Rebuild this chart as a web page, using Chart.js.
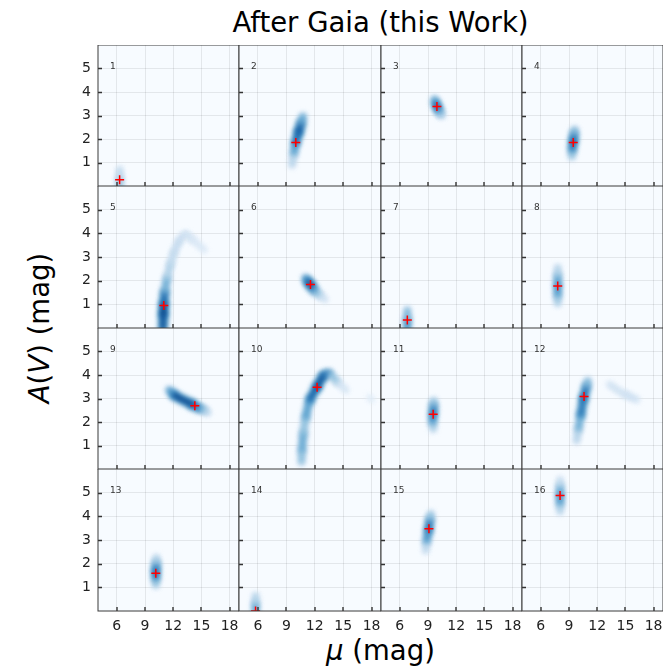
<!DOCTYPE html>
<html>
<head>
<meta charset="utf-8">
<script src="https://cdn.jsdelivr.net/npm/chart.js@4.4.1/dist/chart.umd.min.js"></script>
<style>
body { margin: 0; background: #fff; }
#wrap { position: relative; width: 667px; height: 666px; font-family: "DejaVu Sans", sans-serif; overflow: hidden; }
#wrap canvas { position: absolute; display: block; }
.lbl { position: absolute; color: #000; white-space: nowrap; font-size: 27.5px; line-height: 32px; }
</style>
</head>
<body>
<div id="wrap">
  <div class="lbl" id="title" style="left:0;width:761px;text-align:center;top:6px;">After Gaia (this Work)</div>
  <div class="lbl" id="xlab" style="left:0;width:761px;text-align:center;top:634px;"><i>μ</i> (mag)</div>
  <div class="lbl" id="ylab" style="left:39px;top:328px;transform:translate(-50%,-50%) rotate(-90deg);"><i>A</i>(<i>V</i>) (mag)</div>
</div>
<script>
// axes
var muTicks = [6, 9, 12, 15, 18];
var avTicks = [1, 2, 3, 4, 5];
var muMin = 4, muMax = 19;
var avMin = 0, avMax = 6;

// best fit (red crosses), panels 1..16
var bestMu = [6.3, 10.0, 9.95, 9.45, 11.0, 11.55, 6.8, 7.8, 14.3, 12.25, 9.55, 10.6, 10.15, 5.75, 9.1, 8.05];
var bestAv = [0.27, 1.85, 3.38, 1.85, 0.95, 1.84, 0.34, 1.77, 2.69, 3.48, 2.33, 3.08, 1.6, 0.0, 3.48, 4.88];

// posterior ridges per panel: [mu, A(V), density]
var p1 = [[[6.3, 0.0, 0.45], [6.3, 0.3, 0.45], [6.3, 0.7, 0.12]]];
var p2 = [[[9.6, 0.9, 0.15], [9.8, 1.4, 0.5], [10.0, 1.85, 0.8], [10.3, 2.3, 0.95], [10.55, 2.65, 0.9], [10.75, 2.95, 0.35]]];
var p3 = [[[9.7, 3.68, 0.3], [9.85, 3.5, 0.9], [10.05, 3.3, 0.9], [10.3, 3.1, 0.5], [10.45, 3.0, 0.15]]];
var p4 = [[[9.3, 1.25, 0.2], [9.35, 1.55, 0.7], [9.45, 1.9, 0.95], [9.55, 2.2, 0.75], [9.6, 2.4, 0.25]]];
var p5 = [[[10.9, 0.0, 0.9], [10.95, 0.6, 1.0], [11.0, 1.0, 1.0], [11.1, 1.5, 0.75], [11.35, 2.1, 0.4], [11.7, 2.7, 0.3],
           [12.1, 3.2, 0.25], [12.6, 3.65, 0.25], [13.3, 3.95, 0.2], [14.0, 3.75, 0.12], [15.3, 3.3, 0.08]]];
var p6 = [[[11.05, 2.1, 0.45], [11.3, 1.95, 0.95], [11.6, 1.8, 1.0], [11.95, 1.6, 0.7], [12.5, 1.4, 0.3], [13.1, 1.2, 0.1]]];
var p7 = [[[6.8, 0.0, 0.6], [6.8, 0.35, 0.8], [6.8, 0.75, 0.25]]];
var p8 = [[[7.8, 1.05, 0.2], [7.8, 1.4, 0.6], [7.8, 1.8, 0.75], [7.8, 2.2, 0.55], [7.8, 2.55, 0.15]]];
var p9 = [[[11.6, 3.35, 0.4], [12.1, 3.15, 0.95], [13.0, 2.95, 1.0], [14.0, 2.75, 0.95], [14.7, 2.6, 0.8], [15.3, 2.5, 0.4], [15.7, 2.4, 0.15]]];
var p10 = [[[10.6, 0.3, 0.25], [10.65, 0.8, 0.7], [10.8, 1.5, 0.5], [11.05, 2.2, 0.45], [11.5, 2.95, 0.85], [12.25, 3.5, 0.95],
            [12.9, 3.95, 0.95], [13.5, 4.05, 0.7], [14.4, 3.7, 0.2], [15.3, 3.35, 0.1]],
           [[17.8, 3.05, 0.06], [18.0, 2.95, 0.06]]];
var p11 = [[[9.55, 1.7, 0.2], [9.5, 2.0, 0.55], [9.55, 2.35, 0.9], [9.6, 2.7, 0.7], [9.6, 2.9, 0.2]]];
var p12 = [[[9.8, 1.2, 0.2], [10.0, 1.7, 0.45], [10.25, 2.3, 0.7], [10.55, 3.0, 0.95], [10.85, 3.5, 0.75], [11.0, 3.75, 0.3]],
           [[13.3, 3.6, 0.18], [14.2, 3.35, 0.18], [15.1, 3.15, 0.18], [16.2, 2.95, 0.22]]];
var p13 = [[[10.15, 1.1, 0.2], [10.15, 1.4, 0.7], [10.15, 1.7, 0.95], [10.2, 2.0, 0.6], [10.2, 2.25, 0.15]]];
var p14 = [[[5.75, 0.0, 0.7], [5.75, 0.3, 0.55], [5.75, 0.65, 0.15]]];
var p15 = [[[8.75, 2.55, 0.15], [8.85, 2.95, 0.45], [9.05, 3.4, 0.95], [9.2, 3.85, 0.7], [9.3, 4.1, 0.2]]];
var p16 = [[[8.05, 4.2, 0.15], [8.05, 4.55, 0.55], [8.05, 4.9, 0.8], [8.05, 5.25, 0.45], [8.05, 5.55, 0.1]]];
var ridges = [p1, p2, p3, p4, p5, p6, p7, p8, p9, p10, p11, p12, p13, p14, p15, p16];

// layout
var colEdges = [98, 239, 381, 522, 663];
var rowEdges = [45, 186, 328, 469, 611];
var padL = 40, padB = 30;

Chart.defaults.font.family = '"DejaVu Sans", sans-serif';
Chart.defaults.color = '#222';

var BLUES = ['#f7fbff', '#deebf7', '#c6dbef', '#9ecae1', '#6baed6', '#4292c6', '#2171b5', '#08519c', '#08306b'];
function hexRgb(h) {
  return [parseInt(h.substr(1, 2), 16), parseInt(h.substr(3, 2), 16), parseInt(h.substr(5, 2), 16)];
}
function blues(t) {
  t = Math.max(0, Math.min(1, t));
  var s = t * 8, i = Math.min(7, Math.floor(s)), f = s - i;
  var a = hexRgb(BLUES[i]), b = hexRgb(BLUES[i + 1]);
  return 'rgb(' + Math.round(a[0] + (b[0] - a[0]) * f) + ',' + Math.round(a[1] + (b[1] - a[1]) * f) + ',' + Math.round(a[2] + (b[2] - a[2]) * f) + ')';
}

// halo, body, core
var layers = [
  { w: 11, t0: 0.06, t1: 0.42, order: 3 },
  { w: 6.5, t0: 0.1, t1: 0.75, order: 2 },
  { w: 3.2, t0: 0.12, t1: 0.97, order: 1 }
];

var panelLook = {
  id: 'panelLook',
  beforeDraw: function (chart) {
    var a = chart.chartArea, ctx = chart.ctx;
    ctx.save();
    ctx.fillStyle = '#f7fbff';
    ctx.fillRect(a.left, a.top, a.right - a.left, a.bottom - a.top);
    ctx.restore();
  },
  beforeDatasetDraw: function (chart, args) {
    var ds = chart.data.datasets[args.index];
    chart.ctx.save();
    if (ds.blur) chart.ctx.filter = 'blur(' + ds.blur + 'px)';
  },
  afterDatasetDraw: function (chart) {
    chart.ctx.restore();
  },
  afterDraw: function (chart) {
    var a = chart.chartArea, ctx = chart.ctx;
    var xs = chart.scales.x, ys = chart.scales.y;
    ctx.save();
    ctx.strokeStyle = '#333';
    ctx.lineWidth = 1.4;
    ctx.beginPath();
    muTicks.forEach(function (v) {
      var px = Math.round(xs.getPixelForValue(v));
      ctx.moveTo(px, a.bottom);
      ctx.lineTo(px, a.bottom - 4);
    });
    avTicks.forEach(function (v) {
      var py = Math.round(ys.getPixelForValue(v)) + 0.5;
      ctx.moveTo(a.left, py);
      ctx.lineTo(a.left + 4, py);
    });
    ctx.stroke();
    ctx.strokeStyle = '#3a3a3a';
    ctx.lineWidth = 1;
    ctx.strokeRect(a.left, a.top, a.right - a.left, a.bottom - a.top);
    ctx.fillStyle = '#333';
    ctx.font = '9px "DejaVu Sans"';
    ctx.textBaseline = 'middle';
    ctx.fillText(String(chart.options.plugins.panelLook.num), a.left + 12, a.top + 22);
    ctx.restore();
  }
};

function makePanel(i) {
  var r = Math.floor(i / 4), c = i % 4;
  var left = colEdges[c], right = colEdges[c + 1], top = rowEdges[r], bottom = rowEdges[r + 1];
  var cv = document.createElement('canvas');
  cv.width = right - left + padL;
  cv.height = bottom - top + padB;
  cv.style.left = (left - padL) + 'px';
  cv.style.top = top + 'px';
  cv.style.width = cv.width + 'px';
  cv.style.height = cv.height + 'px';
  document.getElementById('wrap').appendChild(cv);

  var datasets = [];
  ridges[i].forEach(function (pts) {
    var data = pts.map(function (p) { return { x: p[0], y: p[1], l: p[2] }; });
    layers.forEach(function (ly) {
      var lvl = function (ctx) { return (data[ctx.p0DataIndex].l + data[ctx.p1DataIndex].l) / 2; };
      datasets.push({
        data: data,
        order: ly.order,
        blur: 2.4,
        clip: 0,
        pointRadius: 0,
        tension: 0.35,
        borderCapStyle: 'round',
        borderJoinStyle: 'round',
        borderColor: blues(ly.t0),
        borderWidth: ly.w,
        segment: {
          borderColor: function (ctx) { return blues(ly.t0 + (ly.t1 - ly.t0) * Math.pow(lvl(ctx), 1.2)); },
          borderWidth: function (ctx) { return ly.w * (0.5 + 0.5 * lvl(ctx)); }
        }
      });
    });
  });
  datasets.push({
    data: [{ x: bestMu[i], y: bestAv[i] }],
    order: 0,
    clip: 0,
    showLine: false,
    pointStyle: 'cross',
    pointRadius: 4.5,
    borderColor: '#ff0000',
    borderWidth: 1.5
  });

  new Chart(cv, {
    type: 'line',
    data: { datasets: datasets },
    plugins: [panelLook],
    options: {
      responsive: false,
      animation: false,
      events: [],
      layout: { padding: 0, autoPadding: false },
      plugins: { legend: { display: false }, tooltip: { enabled: false }, panelLook: { num: i + 1 } },
      scales: {
        x: {
          type: 'linear', min: muMin, max: muMax,
          afterBuildTicks: function (s) { s.ticks = muTicks.map(function (v) { return { value: v }; }); },
          afterFit: function (s) { s.height = padB; s.paddingLeft = 0; s.paddingRight = 0; },
          ticks: { display: r === 3, padding: 7, font: { size: 14 }, color: '#222', maxRotation: 0, autoSkip: false },
          grid: { color: 'rgba(0,0,0,0.08)', drawTicks: false },
          border: { display: false }
        },
        y: {
          type: 'linear', min: avMin, max: avMax,
          afterBuildTicks: function (s) { s.ticks = avTicks.map(function (v) { return { value: v }; }); },
          afterFit: function (s) { s.width = padL; s.paddingTop = 0; s.paddingBottom = 0; },
          ticks: { display: c === 0, padding: 7, font: { size: 14 }, color: '#222', autoSkip: false },
          grid: { color: 'rgba(0,0,0,0.08)', drawTicks: false },
          border: { display: false }
        }
      }
    }
  });
}

for (var i = 0; i < 16; i++) makePanel(i);
</script>
</body>
</html>
